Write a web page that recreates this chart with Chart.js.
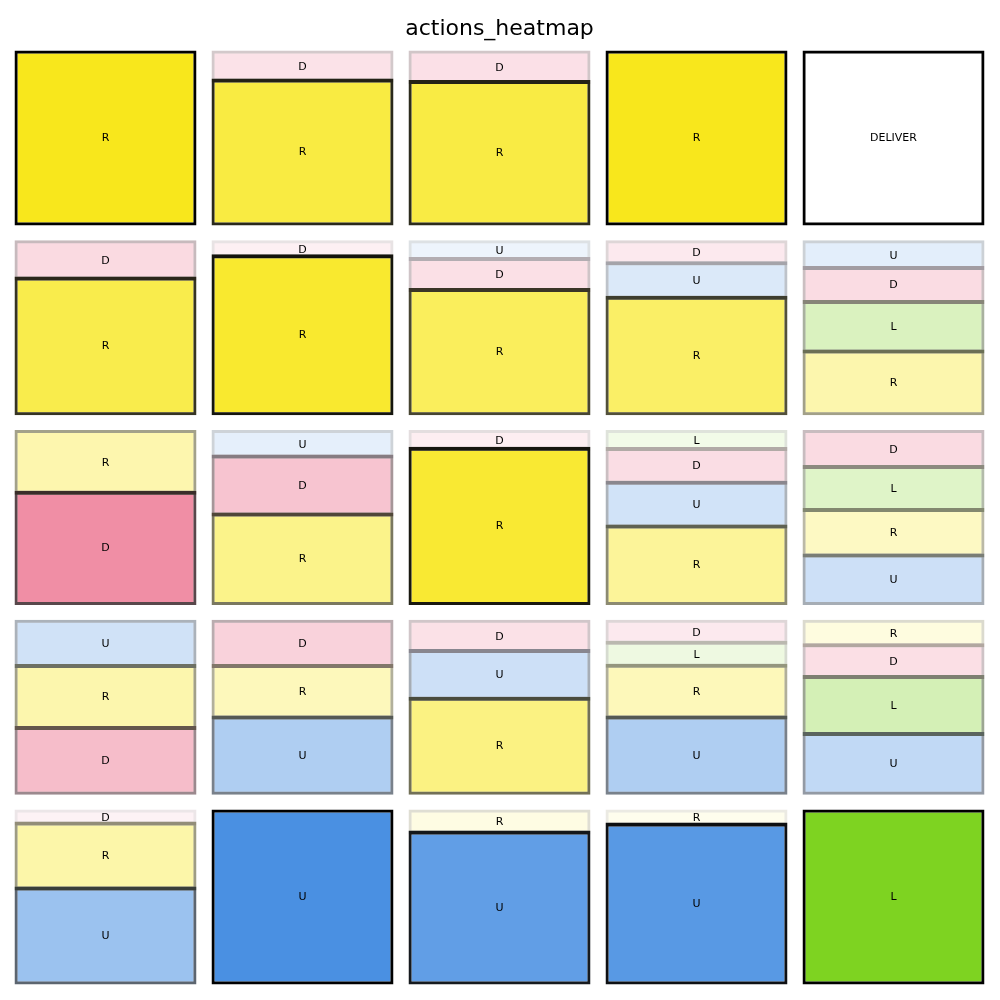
<!DOCTYPE html>
<html>
<head>
<meta charset="utf-8">
<script src="https://cdn.jsdelivr.net/npm/chart.js@4/dist/chart.umd.min.js"></script>
<style>
html,body{margin:0;padding:0;background:#fff;}
canvas{display:block;}
</style>
</head>
<body>
<canvas id="c" width="1000" height="1000"></canvas>
<script>
// ---- data (states in row-major order, 5 x 5 grid) ----
const ACTIONS = ['U', 'D', 'L', 'R'];
const COLUMNS = ['c0', 'c1', 'c2', 'c3', 'c4'];
const N_ROWS = 5;
const probU = [0, 0, 0, 0, 0,
               0, 0, 0.10, 0.20, 0.153,
               0, 0.146, 0, 0.254, 0.279,
               0.26, 0.44, 0.277, 0.44, 0.345,
               0.55, 1, 0.875, 0.921, 0];
const probD = [0, 0.166, 0.175, 0, 0,
               0.213, 0.085, 0.18, 0.125, 0.198,
               0.644, 0.337, 0.10, 0.196, 0.207,
               0.38, 0.26, 0.173, 0.125, 0.184,
               0.073, 0, 0, 0, 0];
const probL = [0, 0, 0, 0, 0,
               0, 0, 0, 0, 0.287,
               0, 0, 0, 0.102, 0.25,
               0, 0, 0, 0.133, 0.331,
               0, 0, 0, 0, 1];
const probR = [1, 0.834, 0.825, 1, 0,
               0.787, 0.915, 0.72, 0.675, 0.362,
               0.356, 0.517, 0.90, 0.448, 0.264,
               0.36, 0.30, 0.55, 0.302, 0.14,
               0.377, 0, 0.125, 0.079, 0];
const terminalStates = [4];
const terminalLabels = ['DELIVER'];
const chartTitle = 'actions_heatmap';

// ---- styles ----
const BASE_RGB = { U: [74, 144, 226], D: [232, 80, 115], L: [126, 211, 33], R: [248, 231, 28] };
const TERMINAL_RGB = [255, 255, 255];
const PX_PER_UNIT = 172;
const ROW_PITCH = 189.75 / PX_PER_UNIT;
const OUTER_W = 3;   // outer cell edge width (px)
const INNER_W = 4;   // separator width (px)

const probs = { U: probU, D: probD, L: probL, R: probR };

function fillColor(rgb, p) {
  const c = rgb.map(v => Math.round(255 - p * (255 - v)));
  return `rgb(${c[0]},${c[1]},${c[2]})`;
}
function edgeColor(rgb, p) {
  const c = rgb.map(v => Math.round((1 - p) * (255 - p * (255 - v) / 2)));
  return `rgb(${c[0]},${c[1]},${c[2]})`;
}

const datasets = [];
for (let r = 0; r < N_ROWS; r++) {
  const base = (N_ROWS - 1 - r) * ROW_PITCH;
  const cells = [];
  for (let c = 0; c < COLUMNS.length; c++) {
    const s = r * COLUMNS.length + c;
    const ti = terminalStates.indexOf(s);
    let segs;
    if (ti >= 0) {
      segs = [{ label: terminalLabels[ti], p: 1, rgb: TERMINAL_RGB }];
    } else {
      segs = ACTIONS.map(a => ({ label: a, p: probs[a][s], rgb: BASE_RGB[a] }))
        .filter(o => o.p > 0)
        .sort((a, b) => b.p - a.p);
    }
    cells.push(segs);
  }
  const maxK = Math.max(...cells.map(s => s.length));
  for (let k = 0; k < maxK; k++) {
    const data = [], bg = [], bc = [], bw = [], labels = [];
    for (let c = 0; c < COLUMNS.length; c++) {
      const segs = cells[c];
      if (k >= segs.length) {
        data.push(null); bg.push('rgba(0,0,0,0)'); bc.push('rgba(0,0,0,0)');
        bw.push({ top: 0, bottom: 0, left: 0, right: 0 }); labels.push('');
        continue;
      }
      let start = base;
      for (let j = 0; j < k; j++) start += segs[j].p;
      const seg = segs[k];
      const wBottom = k > 0 ? INNER_W : OUTER_W;
      const wTop = k < segs.length - 1 ? INNER_W : OUTER_W;
      data.push([start - (wBottom / 2) / PX_PER_UNIT, start + seg.p + (wTop / 2) / PX_PER_UNIT]);
      bg.push(fillColor(seg.rgb, seg.p));
      bc.push(edgeColor(seg.rgb, seg.p));
      bw.push({ top: wTop, bottom: wBottom, left: OUTER_W, right: OUTER_W });
      labels.push(seg.label);
    }
    datasets.push({
      data: data,
      backgroundColor: bg,
      borderColor: bc,
      borderWidth: (ctx) => bw[ctx.dataIndex],
      borderSkipped: false,
      inflateAmount: 0,
      grouped: false,
      barThickness: 179 + OUTER_W,
      segLabels: labels
    });
  }
}

const whiteBg = {
  id: 'whiteBg',
  beforeDraw(chart) {
    const ctx = chart.ctx;
    ctx.save();
    ctx.fillStyle = '#fff';
    ctx.fillRect(0, 0, chart.width, chart.height);
    ctx.restore();
  }
};
const multiplyPlugin = {
  id: 'multiplyBlend',
  beforeDatasetsDraw(chart) { chart.ctx.save(); chart.ctx.globalCompositeOperation = 'multiply'; },
  afterDatasetsDraw(chart) { chart.ctx.restore(); }
};
const labelPlugin = {
  id: 'segLabels',
  afterDatasetsDraw(chart) {
    const ctx = chart.ctx;
    ctx.save();
    ctx.font = '11px "DejaVu Sans"';
    ctx.fillStyle = '#000';
    ctx.textAlign = 'center';
    ctx.textBaseline = 'middle';
    chart.data.datasets.forEach((ds, i) => {
      const meta = chart.getDatasetMeta(i);
      meta.data.forEach((el, j) => {
        const t = ds.segLabels[j];
        if (!t) return;
        const pt = el.getCenterPoint();
        ctx.fillText(t, pt.x, pt.y + 0.5);
      });
    });
    ctx.restore();
  }
};

new Chart(document.getElementById('c'), {
  type: 'bar',
  data: { labels: COLUMNS, datasets: datasets },
  options: {
    responsive: false,
    devicePixelRatio: 1,
    animation: false,
    layout: { padding: { top: 0, left: 7, right: 8, bottom: 8 } },
    plugins: {
      legend: { display: false },
      tooltip: { enabled: false },
      title: {
        display: true,
        text: chartTitle,
        color: '#000',
        font: { family: 'DejaVu Sans', size: 22, weight: 'normal', lineHeight: 1 },
        padding: { top: 18, bottom: 3 }
      }
    },
    scales: {
      x: { type: 'category', display: false, offset: true, grid: { display: false } },
      y: { type: 'linear', display: false, min: -9 / PX_PER_UNIT, max: 940 / PX_PER_UNIT }
    }
  },
  plugins: [whiteBg, multiplyPlugin, labelPlugin]
});
</script>
</body>
</html>
